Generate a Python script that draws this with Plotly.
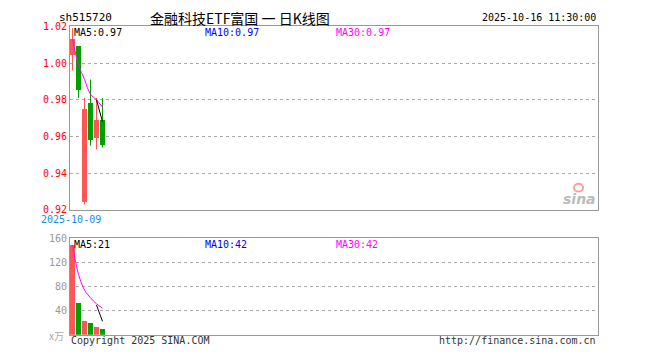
import plotly.graph_objects as go

# ---------------- data ----------------
dates = ["2025-10-09", "2025-10-10", "2025-10-13", "2025-10-14", "2025-10-15", "2025-10-16"]
open_p = [1.004, 1.009, 0.924, 0.978, 0.959, 0.969]
close_p = [1.013, 0.985, 0.975, 0.958, 0.969, 0.955]
high_p = [1.019, 1.009, 0.981, 0.991, 0.981, 0.981]
low_p = [0.996, 0.981, 0.923, 0.955, 0.953, 0.954]
volume = [148, 52, 23, 20, 12, 9]          # 万
ma5_price = [None, None, None, None, 0.980, 0.968]
ma30_price = [1.013, 0.999, 0.991, 0.983, 0.980, 0.976]
ma5_vol = [None, None, None, None, 49, 22]
ma30_vol = [148, 100, 74, 61, 51, 44]
price_ticks = [0.92, 0.94, 0.96, 0.98, 1.00, 1.02]
vol_ticks = [40, 80, 120, 160]

title_code = "sh515720"
title_name = "金融科技ETF富国 一 日K线图"
timestamp = "2025-10-16 11:30:00"

RED = "#ff5555"
GREEN = "#00a000"
MAG = "#ff00ff"
FRAME = "#999999"
MONO = "DejaVu Sans Mono"

W, H = 660, 360
L, R = 70, 598
MT, MB = 21, 211
VT, VB = 240, 340


def px_x(p):
    return p / W


def px_y(p):
    return 1 - p / H


idx = list(range(len(dates)))
up = [c >= o for o, c in zip(open_p, close_p)]
colors = [RED if u else GREEN for u in up]

fig = go.Figure()

# candle bodies
fig.add_trace(go.Bar(
    x=idx, y=[abs(c - o) for o, c in zip(open_p, close_p)],
    base=[min(o, c) for o, c in zip(open_p, close_p)],
    marker=dict(color=colors, line=dict(width=0)), width=0.83,
    xaxis="x", yaxis="y", showlegend=False, hoverinfo="skip"))

# wicks
for col, flag in ((RED, True), (GREEN, False)):
    wx, wy = [], []
    for i in idx:
        if up[i] == flag:
            wx += [i, i, None]
            wy += [low_p[i], high_p[i], None]
    fig.add_trace(go.Scatter(x=wx, y=wy, mode="lines", line=dict(color=col, width=1),
                             xaxis="x", yaxis="y", showlegend=False, hoverinfo="skip"))

# price MAs
fig.add_trace(go.Scatter(x=idx, y=ma30_price, mode="lines",
                         line=dict(color=MAG, width=1, shape="spline"),
                         xaxis="x", yaxis="y", showlegend=False))
fig.add_trace(go.Scatter(x=idx, y=ma5_price, mode="lines",
                         line=dict(color="black", width=1),
                         xaxis="x", yaxis="y", showlegend=False))

# volume bars
fig.add_trace(go.Bar(x=idx, y=volume, marker=dict(color=colors, line=dict(width=0)),
                     width=0.83, xaxis="x2", yaxis="y2", showlegend=False))
fig.add_trace(go.Scatter(x=idx, y=ma30_vol, mode="lines",
                         line=dict(color=MAG, width=1, shape="spline"),
                         xaxis="x2", yaxis="y2", showlegend=False))
fig.add_trace(go.Scatter(x=idx, y=ma5_vol, mode="lines",
                         line=dict(color="black", width=1),
                         xaxis="x2", yaxis="y2", showlegend=False))

xr = [-0.4167, 87.583]
xdom = [px_x(L), px_x(R)]
axis_common = dict(showline=True, mirror=True, linecolor=FRAME, linewidth=1, zeroline=False)

fig.update_layout(
    width=W, height=H, autosize=False,
    margin=dict(l=0, r=0, t=0, b=0),
    paper_bgcolor="white", plot_bgcolor="white",
    barmode="overlay", bargap=0,
    xaxis=dict(domain=xdom, range=xr, anchor="y", showticklabels=False, ticks="",
               showgrid=False, **axis_common),
    yaxis=dict(domain=[px_y(MB), px_y(MT)], range=[0.92, 1.02], anchor="x",
               tickvals=price_ticks, ticktext=[f"{v:.2f}" for v in price_ticks],
               tickfont=dict(family=MONO, size=10, color="red"), ticks="",
               showgrid=True, gridcolor="#aaaaaa", griddash="dot", gridwidth=1,
               **axis_common),
    xaxis2=dict(domain=xdom, range=xr, anchor="y2", showticklabels=False, ticks="",
                showgrid=False, **axis_common),
    yaxis2=dict(domain=[px_y(VB), px_y(VT)], range=[0, 160], anchor="x2",
                tickvals=vol_ticks, ticktext=[str(v) for v in vol_ticks],
                tickfont=dict(family=MONO, size=10, color="#999999"), ticks="",
                showgrid=True, gridcolor="#aaaaaa", griddash="dot", gridwidth=1,
                **axis_common),
)

anns = []


def txt(x, y, s, color="black", size=10, family=MONO, xanchor="left", **kw):
    anns.append(dict(x=px_x(x), y=px_y(y), xref="paper", yref="paper", text=s,
                     showarrow=False, xanchor=xanchor, yanchor="middle",
                     font=dict(family=family, size=size, color=color), **kw))


txt(57, 12, title_code, size=11)
txt(148, 12, title_name, size=14, family="Noto Sans CJK SC")
txt(598, 12, timestamp, size=10, xanchor="right")
txt(72, 27, "MA5:0.97")
txt(203, 27, "MA10:0.97", color="#0000ff")
txt(334, 27, "MA30:0.97", color=MAG)
txt(72, 247, "MA5:21")
txt(203, 247, "MA10:42", color="#0000ff")
txt(334, 247, "MA30:42", color=MAG)
txt(39, 221, "2025-10-09", color="#1e88e5")
txt(69, 346, "Copyright 2025 SINA.COM", color="#333333")
txt(598, 346, "http://finance.sina.com.cn", color="#333333", xanchor="right")
txt(66, 341, "x万", color="#aaaaaa", size=10, family="Noto Sans CJK SC", xanchor="right")
txt(598, 200, "<b><i>sina</i></b>", color="#bbbbbb", size=14, family="DejaVu Sans", xanchor="right")
fig.update_layout(annotations=anns)

fig.add_shape(type="circle", xref="paper", yref="paper",
              x0=px_x(574), x1=px_x(583), y0=px_y(192), y1=px_y(184),
              line=dict(color="#f4a0a0", width=2), fillcolor="rgba(0,0,0,0)")

fig.write_html("out.html", config={"displayModeBar": False},
               post_script="document.body.style.margin='0';document.body.style.overflow='hidden';")
